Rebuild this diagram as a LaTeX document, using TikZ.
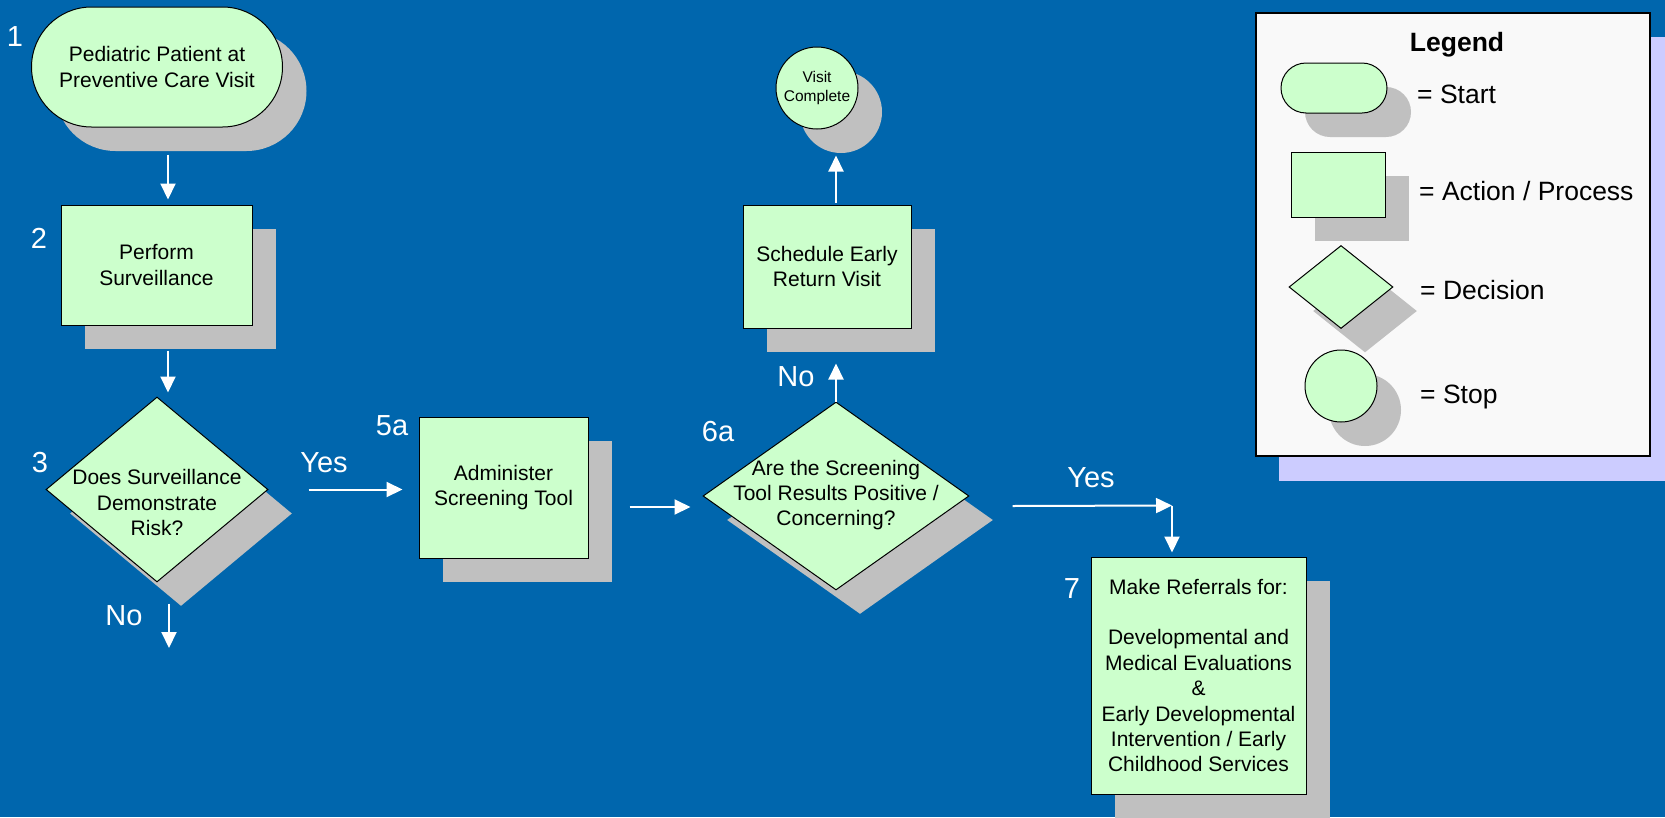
\documentclass[tikz,border=0pt]{standalone}
\usepackage{fontspec}
\setmainfont{Liberation Sans}
\usetikzlibrary{shapes.geometric,arrows.meta,calc,shadows}

\definecolor{pagebg}{HTML}{0066AD}
\definecolor{boxfill}{HTML}{CCFFCC}
\definecolor{shade}{HTML}{C0C0C0}
\definecolor{legendfill}{HTML}{F9F9F9}
\definecolor{legendshade}{HTML}{CCCCFF}

\newcommand\fsBox{\fontsize{21}{25.4}\selectfont}
\newcommand\fsSmall{\fontsize{15.5}{19}\selectfont}
\newcommand\fsTag{\fontsize{29}{34}\selectfont}
\newcommand\fsLegend{\fontsize{26.5}{31}\selectfont}

\tikzset{
  shadowed/.style={general shadow={fill=shade, draw=none,
      shadow xshift=24pt, shadow yshift=-24pt}},
  shapebase/.style={shadowed, draw=black, line width=1pt, fill=boxfill,
      inner sep=0pt, align=center, text=black, font=\fsBox},
  startbox/.style={shapebase, rectangle},
  processbox/.style={shapebase, rectangle},
  decision/.style={shapebase, diamond},
  stopbox/.style={shapebase, circle, font=\fsSmall},
  boxtext/.style={align=center, text=black, font=\fsBox, inner sep=0pt},
  tag/.style={text=white, font=\fsTag, inner sep=0pt},
  arr/.style={white, line width=2pt, -{Triangle[length=16pt,width=15pt]}},
  legendtext/.style={text=black, font=\fsLegend, inner sep=0pt, anchor=base west},
}

\begin{document}
\begin{tikzpicture}[x=1pt,y=-1pt]
  % page background
  \fill[pagebg] (0,0) rectangle (1665,817);
  \useasboundingbox (0,0) rectangle (1665,817);

  % flow chart shapes
  \node[startbox, rounded corners=60pt, minimum width=251pt, minimum height=120pt]
    (start) at (157,67) {Pediatric Patient at\\Preventive Care Visit};
  \node[processbox, minimum width=191pt, minimum height=120pt]
    (s2) at (156.5,265) {Perform\\Surveillance};
  \node[decision, minimum width=222pt, minimum height=185pt] (d3) at (157,489.5) {};
  \node[boxtext] at ($(d3.center)+(0,13)$) {Does Surveillance\\Demonstrate\\Risk?};
  \node[processbox, minimum width=169pt, minimum height=141pt]
    (s5) at (503.5,487.5) {Administer\\Screening Tool};
  \node[decision, minimum width=266pt, minimum height=188pt] (d6) at (836,496) {};
  \node[boxtext] at ($(d6.center)+(0,-1)$) {Are the Screening\\Tool Results Positive /\\Concerning?};
  \node[processbox, minimum width=168pt, minimum height=123pt]
    (sched) at (827,266.5) {Schedule Early\\Return Visit};
  \node[stopbox, minimum size=82pt] (visit) at (817,88) {Visit\\Complete};
  \node[processbox, minimum width=215pt, minimum height=237pt]
    (s7) at (1198.5,675.5) {Make Referrals for:\\[25.4pt]Developmental and\\Medical Evaluations\\\&\\Early Developmental\\Intervention / Early\\Childhood Services};

  % step numbers
  \node[tag] at (15,37) {1};
  \node[tag] at (39,238) {2};
  \node[tag] at (40,463) {3};
  \node[tag] at (392,426) {5a};
  \node[tag] at (718,432) {6a};
  \node[tag] at (1072,589) {7};

  % branch labels
  \node[tag] at (324,463) {Yes};
  \node[tag] at (124,616) {No};
  \node[tag] at (796,377) {No};
  \node[tag] at (1091,478) {Yes};

  % connectors
  \coordinate (noend) at (169,648);
  \coordinate (ycorner) at ($(s7.north)+(-26.5,-51)$);
  \draw[arr] ($(start.south)+(11,27)$) -- ($(s2.north)+(11.5,-5)$);
  \draw[arr] ($(s2.south)+(11.5,25)$) -- ($(d3.north)+(11,-4)$);
  \draw[arr] ($(d3.east)+(40,0)$) -- ($(s5.west)+(-16,2)$);
  \draw[arr] ($(d3.south)+(12,21)$) -- (noend);
  \draw[arr] ($(s5.east)+(41,19.5)$) -- ($(d6.west)+(-12,11)$);
  \draw[arr] (d6.north) -- ($(sched.south)+(9,35)$);
  \draw[arr] ($(sched.north)+(9,-2)$) -- ($(visit.south)+(19,26)$);
  \draw[arr] ($(d6.east)+(43,10)$) -- (ycorner);
  \draw[arr] (ycorner) -- ($(s7.north)+(-26.5,-4)$);

  % legend
  \fill[legendshade] (1279,37) rectangle (1665,481);
  \node[draw=black, line width=1.5pt, fill=legendfill, minimum width=394pt,
        minimum height=443pt, inner sep=0pt] (legend) at (1453,234.5) {};
  \node[text=black, font=\fsLegend\bfseries, inner sep=0pt, anchor=base]
    at (1457,51) {Legend};
  \node[startbox, rounded corners=25pt, minimum width=106pt, minimum height=50pt]
    (lgstart) at (1334,88) {};
  \node[processbox, minimum width=94pt, minimum height=65pt]
    (lgproc) at (1338,184.5) {};
  \node[decision, minimum width=104pt, minimum height=83pt]
    (lgdec) at (1341,287) {};
  \node[stopbox, minimum size=72pt] (lgstop) at (1341,386) {};
  \node[legendtext] at (1417,103) {= Start};
  \node[legendtext] at (1419,200) {= Action / Process};
  \node[legendtext] at (1420,299) {= Decision};
  \node[legendtext] at (1420,403) {= Stop};
\end{tikzpicture}
\end{document}
